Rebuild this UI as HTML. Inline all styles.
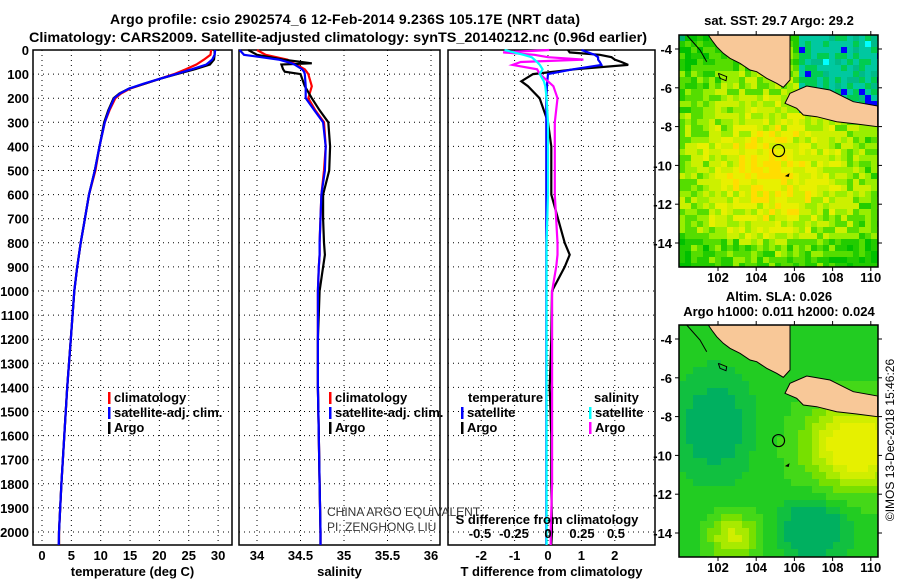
<!DOCTYPE html>
<html><head><meta charset="utf-8"><style>
html,body{margin:0;padding:0;background:#fff;}
svg{display:block;font-family:"Liberation Sans",sans-serif;}
.b{font-weight:bold;font-size:13px;}
.t{font-weight:bold;font-size:14px;}
</style></head><body>
<svg id="chart" width="900" height="580" viewBox="0 0 900 580" xmlns="http://www.w3.org/2000/svg">
<rect width="900" height="580" fill="#fff"/>
<text class="t" x="345" y="24" text-anchor="middle" textLength="470">Argo profile: csio 2902574_6 12-Feb-2014 9.236S 105.17E (NRT data)</text>
<text class="t" x="338" y="42" text-anchor="middle" textLength="618" lengthAdjust="spacingAndGlyphs">Climatology: CARS2009. Satellite-adjusted climatology: synTS_20140212.nc (0.96d earlier)</text>
<g id="g"></g>
</svg>
<script>
// ---- data ----
const depths   = [0,20,40,60,80,100,120,140,160,180,200,250,300,400,500,600,700,800,900,1000,1200,1400,1600,1800,2000,2054];
const tempArgo = [29.4,29.4,29.3,28.6,26,23,20,17.5,14.8,13.2,12.2,11.3,10.6,9.8,9.0,8.0,7.3,6.6,6.0,5.5,4.9,4.3,3.8,3.3,2.9,2.9];
const tempClim = [28.8,28.7,27.6,26.3,24.5,22.5,20,17.5,15,13.5,12.5,11.5,10.7,9.8,9.1,8.0,7.3,6.6,6.0,5.5,4.9,4.3,3.8,3.3,2.9,2.9];
const tempSat  = [29.5,29.4,29.0,28.0,25.5,22.8,20,17.3,14.8,13.3,12.3,11.4,10.7,9.8,9.0,8.0,7.3,6.6,6.0,5.5,4.9,4.3,3.8,3.3,2.9,2.85];
const salDepths= [0,20,40,55,60,80,90,100,150,200,250,300,400,500,600,700,800,850,900,1000,1200,1400,1600,1800,2000,2054];
const salArgo  = [33.9,34.0,34.3,34.63,34.28,34.3,34.32,34.5,34.55,34.63,34.72,34.82,34.84,34.83,34.76,34.76,34.77,34.78,34.76,34.72,34.7,34.7,34.71,34.72,34.73,34.73];
const salClim  = [34.0,34.1,34.35,34.42,34.45,34.55,34.57,34.59,34.63,34.59,34.67,34.77,34.79,34.77,34.74,34.73,34.72,34.72,34.71,34.7,34.7,34.7,34.71,34.72,34.73,34.73];
const salSat   = [33.8,33.85,34.25,34.4,34.43,34.52,34.54,34.55,34.56,34.56,34.66,34.76,34.79,34.78,34.74,34.73,34.72,34.72,34.71,34.7,34.7,34.7,34.71,34.72,34.73,34.73];
const diffDepths=[0,10,20,30,40,50,62,80,100,130,150,200,300,400,600,800,850,900,1000,1200,1400,1600,1800,2000,2054];
const tDiffArgo= [0.6,0.65,1.55,1.9,2.0,2.2,2.4,0.8,-0.45,-0.8,-0.6,-0.25,0,0.1,0.1,0.5,0.65,0.5,0.12,0.1,0.05,0.1,0.1,0.12,0.1];
const tDiffSat = [1.0,1.2,1.4,1.5,1.5,1.55,1.6,0.75,0,-0.02,-0.03,-0.05,-0.05,-0.05,-0.05,-0.05,-0.05,-0.05,-0.05,-0.05,-0.05,-0.05,-0.05,-0.05,-0.05];
const sDiffArgo= [0.01,-0.33,-0.1,0.0,0.26,-0.2,-0.26,-0.08,-0.06,0.0,0.04,0.07,0.05,0.05,0.05,0.07,0.07,0.06,0.03,0.03,0.03,0.03,0.03,0.02,0.02];
const sDiffSat = [-0.32,-0.25,-0.18,-0.12,-0.1,-0.08,-0.06,-0.04,-0.06,-0.03,-0.02,-0.01,0,0,0,-0.01,-0.01,-0.01,-0.01,-0.01,-0.01,-0.01,-0.01,-0.01,-0.01];
const depthTicks=[0,100,200,300,400,500,600,700,800,900,1000,1100,1200,1300,1400,1500,1600,1700,1800,1900,2000];
const tempTicks=[0,5,10,15,20,25,30];
const salTicks=[34,34.5,35,35.5,36];
const tdTicks=[-2,-1,0,1,2];
const sdTicks=[-0.5,-0.25,0,0.25,0.5];
const latTicks=[-4,-6,-8,-10,-12,-14];
const lonTicks=[102,104,106,108,110];

const NS='http://www.w3.org/2000/svg';
const G=document.getElementById('g');
function el(tag,attrs,parent,txt){const e=document.createElementNS(NS,tag);for(const k in attrs)e.setAttribute(k,attrs[k]);if(txt!==undefined)e.textContent=txt;(parent||G).appendChild(e);return e;}

const TOP=50,BOT=545;
const yD=d=>TOP+d*0.241;
const panels=[
 {name:'temperature',x0:33,x1:232,sx:v=>42+v*5.87,ticks:tempTicks,title:'temperature (deg C)'},
 {name:'salinity',x0:239,x1:440,sx:v=>257+(v-34)*87,ticks:salTicks,title:'salinity'},
 {name:'difference',x0:448,x1:655,sx:v=>548+v*33.4,ticks:tdTicks,title:'T difference from climatology'}
];
const sdX=v=>548+v*136;

panels.forEach((p,pi)=>{
  const g=el('g',{});
  
  
  depthTicks.forEach(d=>{
    const l=el('line',{x1:p.x0,x2:p.x1,y1:yD(d),y2:yD(d),stroke:'#000','stroke-dasharray':'1,4','stroke-width':1},g);
    
    
  });
  p.ticks.forEach(v=>{
    const x=p.sx(v);
    const l=el('line',{x1:x,x2:x,y1:TOP,y2:BOT,stroke:'#000','stroke-dasharray':'1,4','stroke-width':1},g);
    
    
    const t=el('text',{x:x,y:560,'text-anchor':'middle',class:'b'},g,String(v));
    
    
  });
  const r=el('rect',{x:p.x0,y:TOP,width:p.x1-p.x0,height:BOT-TOP,fill:'none',stroke:'#000','stroke-width':1.5},g);
  
  
  const at=el('text',{x:(p.x0+p.x1)/2,y:576,'text-anchor':'middle',class:'b'},g,p.title);
  
  
});
depthTicks.forEach(d=>{
  const t=el('text',{x:29,y:yD(d)+5,'text-anchor':'end',class:'b'},G,String(d));
  
  
});

function line(ds,vs,fx,color,name){
  const pts=ds.map((d,i)=>fx(vs[i]).toFixed(1)+','+yD(d).toFixed(1)).join(' ');
  const pl=el('polyline',{points:pts,fill:'none',stroke:color,'stroke-width':2.2,'stroke-linejoin':'miter'});
  
  
}
const P=panels;
line(depths,tempClim,P[0].sx,'#f00','temp-climatology-line');
line(depths,tempArgo,P[0].sx,'#000','temp-argo-line');
line(depths,tempSat,P[0].sx,'#00f','temp-satellite-line');
line(salDepths,salClim,P[1].sx,'#f00','salinity-climatology-line');
line(salDepths,salArgo,P[1].sx,'#000','salinity-argo-line');
line(salDepths,salSat,P[1].sx,'#00f','salinity-satellite-line');
line(diffDepths,tDiffArgo,P[2].sx,'#000','tdiff-argo-line');
line(diffDepths,tDiffSat,P[2].sx,'#00f','tdiff-satellite-line');
line(diffDepths,sDiffArgo,sdX,'#f0f','sdiff-argo-line');
line(diffDepths,sDiffSat,sdX,'#0ff','sdiff-satellite-line');

sdTicks.forEach(v=>{
  const t=el('text',{x:sdX(v),y:538,'text-anchor':'middle',class:'b'},G,String(v));
  
  
});
{const t=el('text',{x:547,y:524,'text-anchor':'middle',class:'b'},G,'S difference from climatology');

}

function legend(x,y,color,label,name){
  const r=el('rect',{x:x,y:y-10,width:2.5,height:12,fill:color});
  
  
  const t=el('text',{x:x+6,y:y,class:'b'},G,label);
  
  
}
legend(108,402,'#f00','climatology','legend-temp-climatology');
legend(108,417,'#00f','satellite-adj. clim.','legend-temp-satellite');
legend(108,432,'#000','Argo','legend-temp-argo');
legend(329,402,'#f00','climatology','legend-sal-climatology');
legend(329,417,'#00f','satellite-adj. clim.','legend-sal-satellite');
legend(329,432,'#000','Argo','legend-sal-argo');
{const t=el('text',{x:468,y:402,class:'b'},G,'temperature');}
{const t=el('text',{x:594,y:402,class:'b'},G,'salinity');}
legend(461,417,'#00f','satellite','legend-tdiff-satellite');
legend(461,432,'#000','Argo','legend-tdiff-argo');
legend(589,417,'#0ff','satellite','legend-sdiff-satellite');
legend(589,432,'#f0f','Argo','legend-sdiff-argo');
{const t=el('text',{x:327,y:516,'font-size':'12px',fill:'#333'},G,'CHINA ARGO EQUIVALENT');}
{const t=el('text',{x:327,y:531,'font-size':'12px',fill:'#333'},G,'PI: ZENGHONG LIU');}

// ---- maps ----
const MX0=679,MX1=878;
function lonX(lon){return 718+(lon-102)*19.1;}
function latY(lat,off){return off+49+(-4-lat)*19.4;}
function hash(i,j){let h=(i*374761393+j*668265263)>>>0;h=((h^(h>>>13))*1274126177)>>>0;return (h%1000)/1000;}
const pal1=['#00b070','#00c000','#22cc00','#55dd00','#99ee00','#ccf000','#e8f000','#ffdd00'];
function drawMap(off,kind,titles){
  const g=el('g',{});
  
  
  const top=off+35,bot=off+267;
  const cs=kind==='sst'?6:7;
  for(let y=top,j=0;y<bot;y+=cs,j++){
    for(let x=MX0,i=0;x<MX1;x+=cs,i++){
      const lon=102+(x+cs/2-718)/19.1, lat=-4-((y+cs/2-off-49)/19.4);
      let c;
      if(kind==='sst'){
        if(lon>106.3&&lat>-7.2-0.15*(lon-106)){const hh=hash(i,j);c=hh<0.04?'#0000ff':hh<0.07?'#00ffff':hh<0.5?'#00c8a0':hh<0.8?'#00cc50':'#00bb88';}
        else{
          const dd=Math.hypot((lon-104.8)/4.2,(lat+10.3)/4.2);
          let v=7.0-dd*2.8+(hash(i,j)-0.5)*2.6;
          if(lat<-13.8)v-=0.8;
          v=Math.max(0,Math.min(7,Math.round(v)));
          c=pal1[v];
        }
      }else{
        const y1=Math.exp(-(((lon-109.3)/2.6)**2+((lat+9.5)/2.2)**2));
        const y2=Math.exp(-(((lon-102.8)/1.3)**2+((lat+14.2)/1.2)**2));
        const t1=Math.exp(-(((lon-101.8)/1.8)**2+((lat+8.5)/2.5)**2));
        const t2=Math.exp(-(((lon-107)/1.5)**2+((lat+13.8)/1.3)**2));
        const s=y1*1.15+y2*0.7-t1*0.5-t2*0.8;
        const lv=[ '#00b060','#11c040','#22cc22','#44d818','#77e000','#a8ea00','#d0ee00','#e6f000'];
        let k=Math.round(2+s*5.5);k=Math.max(0,Math.min(7,k));c=lv[k];
      }
      el('rect',{x:x,y:y,width:Math.min(cs,MX1-x),height:Math.min(cs,bot-y),fill:c},g);
    }
  }
  const P=(a)=>a.map(p=>(650+p[0]/3).toFixed(1)+','+(off+p[1]/3).toFixed(1)).join(' ');
  const sum=el('polygon',{points:P([[175,105],[420,105],[420,240],[400,262],[380,250],[350,235],[320,215],[300,210],[270,190],[240,175],[220,160],[200,140],[185,120]]),fill:'#f8c898',stroke:'#000','stroke-width':1},g);
  
  
  const jav=el('polygon',{points:P([[420,280],[470,258],[540,270],[580,290],[610,305],[683,318],[683,380],[620,372],[560,365],[500,350],[460,345],[440,325],[405,310]]),fill:'#f8c898',stroke:'#000','stroke-width':1},g);
  
  
  el('path',{d:'M'+P([[110,105],[150,150],[170,185]])+' M'+P([[205,220],[230,230],[228,242],[210,235],[205,220]]),fill:'none',stroke:'#000','stroke-width':1},g);
  const ci=el('circle',{cx:lonX(105.17),cy:latY(-9.236,off),r:6,fill:'none',stroke:'#000','stroke-width':1.2},g);
  
  
  el('polygon',{points:`${lonX(105.5)},${latY(-10.55,off)} ${lonX(105.75)},${latY(-10.4,off)} ${lonX(105.7)},${latY(-10.6,off)}`,fill:'#000'},g);
  const fr=el('rect',{x:MX0,y:top,width:MX1-MX0,height:bot-top,fill:'none',stroke:'#000','stroke-width':1.5},g);
  
  
  latTicks.forEach(la=>{
    const y=latY(la,off);
    el('line',{x1:MX0-4,x2:MX0,y1:y,y2:y,stroke:'#000'},g);
    el('line',{x1:MX1,x2:MX1+4,y1:y,y2:y,stroke:'#000'},g);
    const t=el('text',{x:672,y:y+5,'text-anchor':'end',class:'b'},g,String(la));
    
    
  });
  lonTicks.forEach(lo=>{
    const x=lonX(lo);
    el('line',{x1:x,x2:x,y1:bot,y2:bot+4,stroke:'#000'},g);
    el('line',{x1:x,x2:x,y1:top-4,y2:top,stroke:'#000'},g);
    const t=el('text',{x:x,y:bot+15,'text-anchor':'middle',class:'b'},g,String(lo));
    
    
  });
  titles.forEach((tt,k)=>{
    const t=el('text',{x:779,y:tt[1],'text-anchor':'middle',class:'b'},g,tt[0]);
    
    
  });
}
drawMap(0,'sst',[['sat. SST: 29.7 Argo: 29.2',25]]);
drawMap(290,'sla',[['Altim. SLA: 0.026',301],['Argo h1000: 0.011 h2000: 0.024',316]]);
{const t=el('text',{x:0,y:0,'font-size':'12px',transform:'translate(894,440) rotate(-90)','text-anchor':'middle'},G,'©IMOS 13-Dec-2018 15:46:26');

}
</script>
</body></html>
